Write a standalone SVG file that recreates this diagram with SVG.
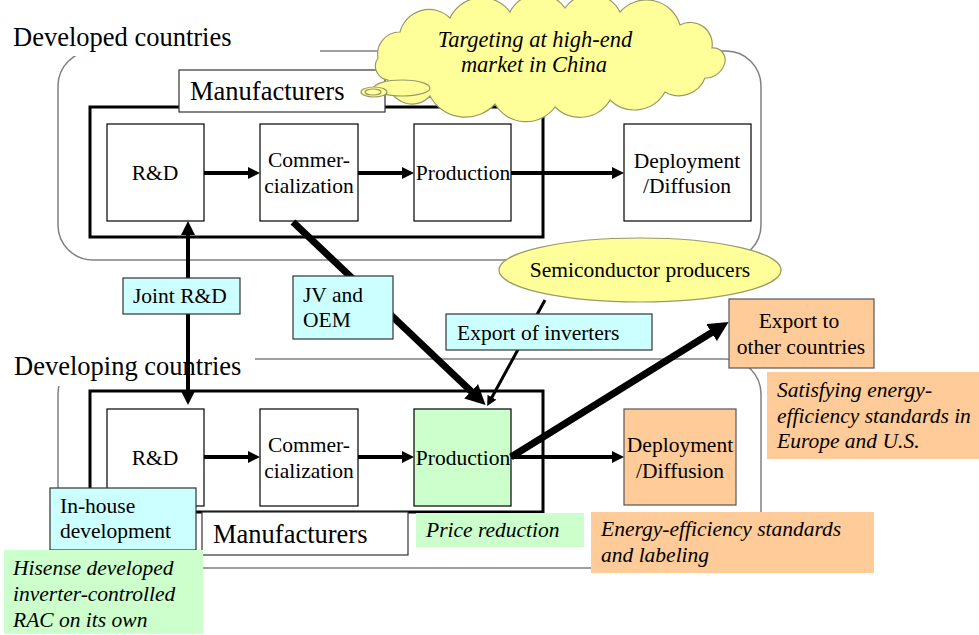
<svg xmlns="http://www.w3.org/2000/svg" width="979" height="635" viewBox="0 0 979 635" font-family="Liberation Serif, Times New Roman, serif">
  <style>
    text { font-family: "Liberation Serif", "Times New Roman", serif; fill: #000; }
    .t21 { font-size: 21.5px; }
    .t26 { font-size: 26.5px; }
    .it { font-style: italic; font-size: 21.5px; }
    .cl { font-style: italic; font-size: 22.5px; }
    .mid { text-anchor: middle; }
    .region { fill: none; stroke: #808080; stroke-width: 1.5; }
    .frame { fill: none; stroke: #000; stroke-width: 3; }
    .step { fill: #fff; stroke: #000; stroke-width: 1.2; }
    .label { fill: #fff; stroke: #333; stroke-width: 1.2; }
    .cyan { fill: #ccffff; stroke: #333; stroke-width: 1.2; }
    .green { fill: #ccffcc; }
    .orange { fill: #ffcc99; }
    .orangeB { fill: #ffcc99; stroke: #555; stroke-width: 1.2; }
    .yellow { fill: #ffff99; stroke: #999966; stroke-width: 1.2; }
    .flow { stroke: #000; stroke-width: 4; fill: none; }
    .bold { stroke: #000; stroke-width: 7; fill: none; }
    .thin { stroke: #000; stroke-width: 3; fill: none; }
  </style>
  <defs>
    <marker id="ah" markerUnits="userSpaceOnUse" markerWidth="12" markerHeight="12" refX="3" refY="6" orient="auto">
      <path d="M0,0 L12,6 L0,12 z" fill="#000"/>
    </marker>
    <marker id="ahV" markerUnits="userSpaceOnUse" markerWidth="14" markerHeight="14" refX="3" refY="7" orient="auto-start-reverse">
      <path d="M0,0 L14,7 L0,14 z" fill="#000"/>
    </marker>
    <marker id="ahBig" markerUnits="userSpaceOnUse" markerWidth="20" markerHeight="20" refX="4" refY="10" orient="auto">
      <path d="M0,0 L20,10 L0,20 z" fill="#000"/>
    </marker>
    <marker id="ahThin" markerUnits="userSpaceOnUse" markerWidth="10" markerHeight="10" refX="2" refY="5" orient="auto">
      <path d="M0,0 L10,5 L0,10 z" fill="#000"/>
    </marker>
  </defs>

  <rect width="979" height="635" fill="#fff"/>

  <!-- regions -->
  <g id="developed-region">
    <rect class="region" x="58" y="51" width="703" height="209" rx="35" ry="35"/>
    <rect x="0" y="15" width="320" height="41" fill="#fff"/>
    <text class="t26" x="13" y="46">Developed countries</text>
  </g>
  <g id="developing-region">
    <rect class="region" x="58" y="359" width="703" height="209" rx="35" ry="35"/>
    <rect x="0" y="340" width="255" height="46" fill="#fff"/>
    <text class="t26" x="14" y="375">Developing countries</text>
  </g>

  <!-- manufacturer frames -->
  <rect id="frame-top" class="frame" x="90" y="107" width="453" height="130"/>
  <rect id="frame-bottom" class="frame" x="90" y="391" width="453" height="121"/>

  <!-- process steps, developed countries -->
  <g id="rd-top">
    <rect class="step" x="107" y="124" width="97" height="97"/>
    <text class="t21 mid" x="155" y="180">R&amp;D</text>
  </g>
  <g id="comm-top">
    <rect class="step" x="260" y="124" width="98" height="97"/>
    <text class="t21 mid" x="309" y="167">Commer-</text>
    <text class="t21 mid" x="309" y="193">cialization</text>
  </g>
  <g id="prod-top">
    <rect class="step" x="414" y="124" width="97" height="97"/>
    <text class="t21 mid" x="463" y="180">Production</text>
  </g>
  <g id="deploy-top">
    <rect class="step" x="624" y="124" width="127" height="97"/>
    <text class="t21 mid" x="687" y="168">Deployment</text>
    <text class="t21 mid" x="687" y="193">/Diffusion</text>
  </g>

  <!-- process steps, developing countries -->
  <g id="rd-bottom">
    <rect class="step" x="107" y="409" width="97" height="97"/>
    <text class="t21 mid" x="155" y="465">R&amp;D</text>
  </g>
  <g id="comm-bottom">
    <rect class="step" x="260" y="409" width="98" height="97"/>
    <text class="t21 mid" x="309" y="452">Commer-</text>
    <text class="t21 mid" x="309" y="478">cialization</text>
  </g>
  <g id="prod-bottom">
    <rect class="step green" stroke="#555" x="414" y="409" width="97" height="97"/>
    <text class="t21 mid" x="463" y="465">Production</text>
  </g>
  <g id="deploy-bottom">
    <rect class="orangeB" x="624" y="409" width="112" height="96"/>
    <text class="t21 mid" x="680" y="452">Deployment</text>
    <text class="t21 mid" x="680" y="478">/Diffusion</text>
  </g>

  <!-- semiconductor producers -->
  <g id="semiconductor">
    <ellipse class="yellow" cx="640" cy="270" rx="141" ry="32"/>
    <text class="t21 mid" x="640" y="277">Semiconductor producers</text>
  </g>

  <!-- connectors -->
  <g id="connectors">
    <line class="flow" x1="204" y1="173" x2="251" y2="173" marker-end="url(#ah)"/>
    <line class="flow" x1="358" y1="173" x2="405" y2="173" marker-end="url(#ah)"/>
    <line class="flow" x1="511" y1="173" x2="615" y2="173" marker-end="url(#ah)"/>
    <line class="flow" x1="204" y1="457" x2="251" y2="457" marker-end="url(#ah)"/>
    <line class="flow" x1="358" y1="457" x2="405" y2="457" marker-end="url(#ah)"/>
    <line class="flow" x1="511" y1="457" x2="615" y2="457" marker-end="url(#ah)"/>
    <line class="flow" stroke-width="5" x1="188" y1="232" x2="188" y2="394" marker-start="url(#ahV)" marker-end="url(#ahV)"/>
    <line class="bold" x1="293" y1="222" x2="474" y2="394" marker-end="url(#ahBig)"/>
    <line class="thin" x1="545" y1="300" x2="491" y2="399" marker-end="url(#ahThin)"/>
    <line class="bold" x1="511" y1="457" x2="715" y2="330.5" marker-end="url(#ahBig)"/>
  </g>

  <!-- manufacturer labels -->
  <g id="manufacturers-top">
    <rect class="label" x="179" y="70" width="206" height="42"/>
    <text class="t26" x="190" y="100">Manufacturers</text>
  </g>
  <g id="manufacturers-bottom">
    <rect class="label" x="202" y="512" width="206" height="43"/>
    <text class="t26" x="213" y="543">Manufacturers</text>
  </g>

  <!-- channel labels -->
  <g id="joint-rd">
    <rect class="cyan" x="123" y="278" width="117" height="36"/>
    <text class="t21" x="133" y="303">Joint R&amp;D</text>
  </g>
  <g id="jv-oem">
    <rect class="cyan" x="293" y="276" width="100" height="63"/>
    <text class="t21" x="303" y="302">JV and</text>
    <text class="t21" x="303" y="327">OEM</text>
  </g>
  <g id="export-inverters">
    <rect class="cyan" x="446" y="314" width="206" height="36"/>
    <text class="t21" x="457" y="340">Export of inverters</text>
  </g>
  <g id="inhouse">
    <rect class="cyan" x="50" y="488" width="146" height="62"/>
    <text class="t21" x="60" y="513">In-house</text>
    <text class="t21" x="60" y="538">development</text>
  </g>
  <g id="export-other">
    <rect class="orangeB" x="729" y="299" width="145" height="69"/>
    <text class="t21 mid" x="799" y="328">Export to</text>
    <text class="t21 mid" x="801" y="354">other countries</text>
  </g>

  <!-- notes -->
  <g id="note-hisense">
    <rect class="green" x="4" y="550" width="199" height="84"/>
    <text class="it" x="13" y="575">Hisense developed</text>
    <text class="it" x="13" y="601">inverter-controlled</text>
    <text class="it" x="13" y="627">RAC on its own</text>
  </g>
  <g id="note-price">
    <rect class="green" x="416" y="513" width="168" height="34"/>
    <text class="it" x="426" y="537">Price reduction</text>
  </g>
  <g id="note-standards">
    <rect class="orange" x="591" y="512" width="283" height="61"/>
    <text class="it" x="601" y="536">Energy-efficiency standards</text>
    <text class="it" x="601" y="562">and labeling</text>
  </g>
  <g id="note-satisfying">
    <rect class="orange" x="767" y="372" width="212" height="87"/>
    <text class="it" x="777" y="397">Satisfying energy-</text>
    <text class="it" x="777" y="423">efficiency standards in</text>
    <text class="it" x="777" y="448">Europe and U.S.</text>
  </g>

  <!-- thought cloud -->
  <g id="cloud-target">
    <path class="yellow" d="M378,58 A22,22 0 0 1 400,32 A30,30 0 0 1 450,18 A35,35 0 0 1 510,12 A32,32 0 0 1 565,8 A32,32 0 0 1 620,12 A35,35 0 0 1 680,25 A22,22 0 0 1 712,48 A12,12 0 0 1 725,62 A20,20 0 0 1 705,78 A28,28 0 0 1 665,92 A35,35 0 0 1 610,100 A35,35 0 0 1 555,107 A36,36 0 0 1 495,104 A40,40 0 0 1 430,96 A24,24 0 0 1 388,80 A14,14 0 0 1 378,58 z"/>
    <ellipse class="yellow" cx="402" cy="88" rx="28" ry="8"/>
    <ellipse class="yellow" cx="374" cy="92" rx="13" ry="5"/>
    <ellipse class="yellow" cx="373" cy="92" rx="8" ry="3"/>
    <text class="cl mid" x="535" y="47">Targeting at high-end</text>
    <text class="cl mid" x="534" y="72">market in China</text>
  </g>
</svg>
